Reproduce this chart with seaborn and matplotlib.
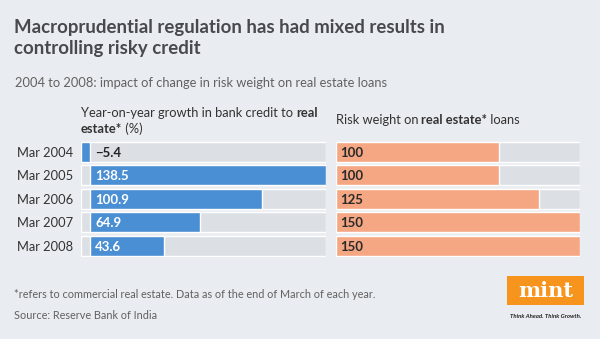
import numpy as np
import pandas as pd
import matplotlib
matplotlib.use("Agg")
import matplotlib.pyplot as plt
from matplotlib.patches import Rectangle
from matplotlib.transforms import offset_copy
import seaborn as sns

# ---- data ----
periods = ["Mar 2004", "Mar 2005", "Mar 2006", "Mar 2007", "Mar 2008"]
credit_growth = [-5.4, 138.5, 100.9, 64.9, 43.6]
risk_weight = [100, 100, 125, 150, 150]
growth_labels = ["\u22125.4", "138.5", "100.9", "64.9", "43.6"]
weight_labels = ["100", "100", "125", "150", "150"]

title_lines = ["Macroprudential regulation has had mixed results in",
               "controlling risky credit"]
subtitle = "2004 to 2008: impact of change in risk weight on real estate loans"
footnote = "*refers to commercial real estate. Data as of the end of March of each year."
source = "Source: Reserve Bank of India"

BG = "#e9ecf0"
TRACK = "#dcdfe4"
BLUE = "#4a8fd3"
ORANGE = "#f5a683"
TITLE_C = "#48494e"
TEXT_C = "#333333"
SUB_C = "#616161"
FONT = "Lato"

sns.set_theme(style="white")
plt.rcParams["font.family"] = [FONT, "DejaVu Sans"]

W, H = 600, 339
fig = plt.figure(figsize=(6, 3.39), dpi=100)
fig.patch.set_facecolor(BG)

df = pd.DataFrame({"period": periods, "growth": credit_growth, "weight": risk_weight})

def px_axes(x0, x1, ytop, ybot):
    return fig.add_axes([x0 / W, 1 - ybot / H, (x1 - x0) / W, (ybot - ytop) / H])

row_h = 23.4
ytop = 152 - row_h / 2
ybot = ytop + 5 * row_h

# left panel
axL = px_axes(81, 325.5, ytop, ybot)
lo, hi = min(credit_growth), max(credit_growth)
axL.barh(range(len(periods)), [hi - lo] * len(periods), left=lo, height=0.85,
         color=TRACK, zorder=0)
sns.barplot(data=df, x="growth", y="period", orient="h", color=BLUE,
            saturation=1, width=0.85, ax=axL, zorder=2)
axL.set_xlim(lo, hi)
axL.set_ylim(4.5, -0.5)

# right panel
axR = px_axes(335.5, 580, ytop, ybot)
axR.barh(range(len(periods)), [max(risk_weight)] * len(periods), height=0.85,
         color=TRACK, zorder=0)
sns.barplot(data=df, x="weight", y="period", orient="h", color=ORANGE,
            saturation=1, width=0.85, ax=axR, zorder=2)
axR.set_xlim(0, max(risk_weight))
axR.set_ylim(4.5, -0.5)

for ax in (axL, axR):
    ax.set_facecolor("none")
    for s in ax.spines.values():
        s.set_visible(False)
    ax.set_xticks([])
    ax.set_xlabel("")
    ax.set_ylabel("")
    ax.grid(False)

axL.set_yticks(range(len(periods)))
axL.set_yticklabels(periods, fontsize=9.3, color=TEXT_C)
axL.tick_params(axis="y", length=0, pad=6)
axR.set_yticks([])

# value labels
tL = offset_copy(axL.transData, fig=fig, x=5, y=0, units="dots")
for i, (v, lab) in enumerate(zip(credit_growth, growth_labels)):
    axL.text(0, i, lab, transform=tL, ha="left", va="center_baseline",
             fontsize=9.5, fontweight="bold",
             color="white" if v > 0 else "#222222", zorder=3)
tR = offset_copy(axR.transData, fig=fig, x=5, y=0, units="dots")
for i, lab in enumerate(weight_labels):
    axR.text(0, i, lab, transform=tR, ha="left", va="center_baseline",
             fontsize=9.5, fontweight="bold", color="#2a2a2a", zorder=3)

renderer = fig.canvas.get_renderer()

def rich(x, y, parts, size, color):
    """Draw segments [(text, weight)] one after another from pixel x, baseline y."""
    cx = x
    for txt, wt in parts:
        t = fig.text(cx / W, 1 - y / H, txt, fontsize=size, fontweight=wt,
                     color=color, ha="left", va="baseline")
        bb = t.get_window_extent(renderer=renderer)
        cx = bb.x1
    return cx

# titles
fig.text(14 / W, 1 - 33.3 / H, title_lines[0], fontsize=13.45, fontweight="bold",
         color=TITLE_C, ha="left", va="baseline")
fig.text(14 / W, 1 - 54.3 / H, title_lines[1], fontsize=13.45, fontweight="bold",
         color=TITLE_C, ha="left", va="baseline")
fig.text(15 / W, 1 - 87.3 / H, subtitle, fontsize=9.25, fontweight="normal",
         color=SUB_C, ha="left", va="baseline")

# panel headers
rich(81, 116.7, [("Year-on-year growth in bank credit to ", "normal"), ("real", "bold")], 9.3, TEXT_C)
rich(81, 132.7, [("estate*", "bold"), (" (%)", "normal")], 9.3, TEXT_C)
rich(335.5, 124.3, [("Risk weight on ", "normal"), ("real estate*", "bold"), (" loans", "normal")], 9.3, TEXT_C)

# footer
fig.text(14 / W, 1 - 298 / H, footnote, fontsize=7.85, fontweight="normal",
         color=SUB_C, ha="left", va="baseline")
fig.text(14 / W, 1 - 319 / H, source, fontsize=7.85, fontweight="normal",
         color=SUB_C, ha="left", va="baseline")

# mint logo
fig.patches.append(Rectangle((507 / W, 1 - 305 / H), 77 / W, 29 / H,
                             transform=fig.transFigure, facecolor="#f7941d",
                             edgecolor="none"))
fig.text(545.5 / W, 1 - 291 / H, "mint", fontsize=15, fontweight="bold",
         family=["DejaVu Serif"], color="white", ha="center", va="center")
fig.text(545.5 / W, 1 - 317 / H, "Think Ahead. Think Growth.", fontsize=4.3,
         fontweight="bold", style="italic", color="#222222", ha="center", va="center")

fig.savefig("out.png", dpi=100, facecolor=BG)
